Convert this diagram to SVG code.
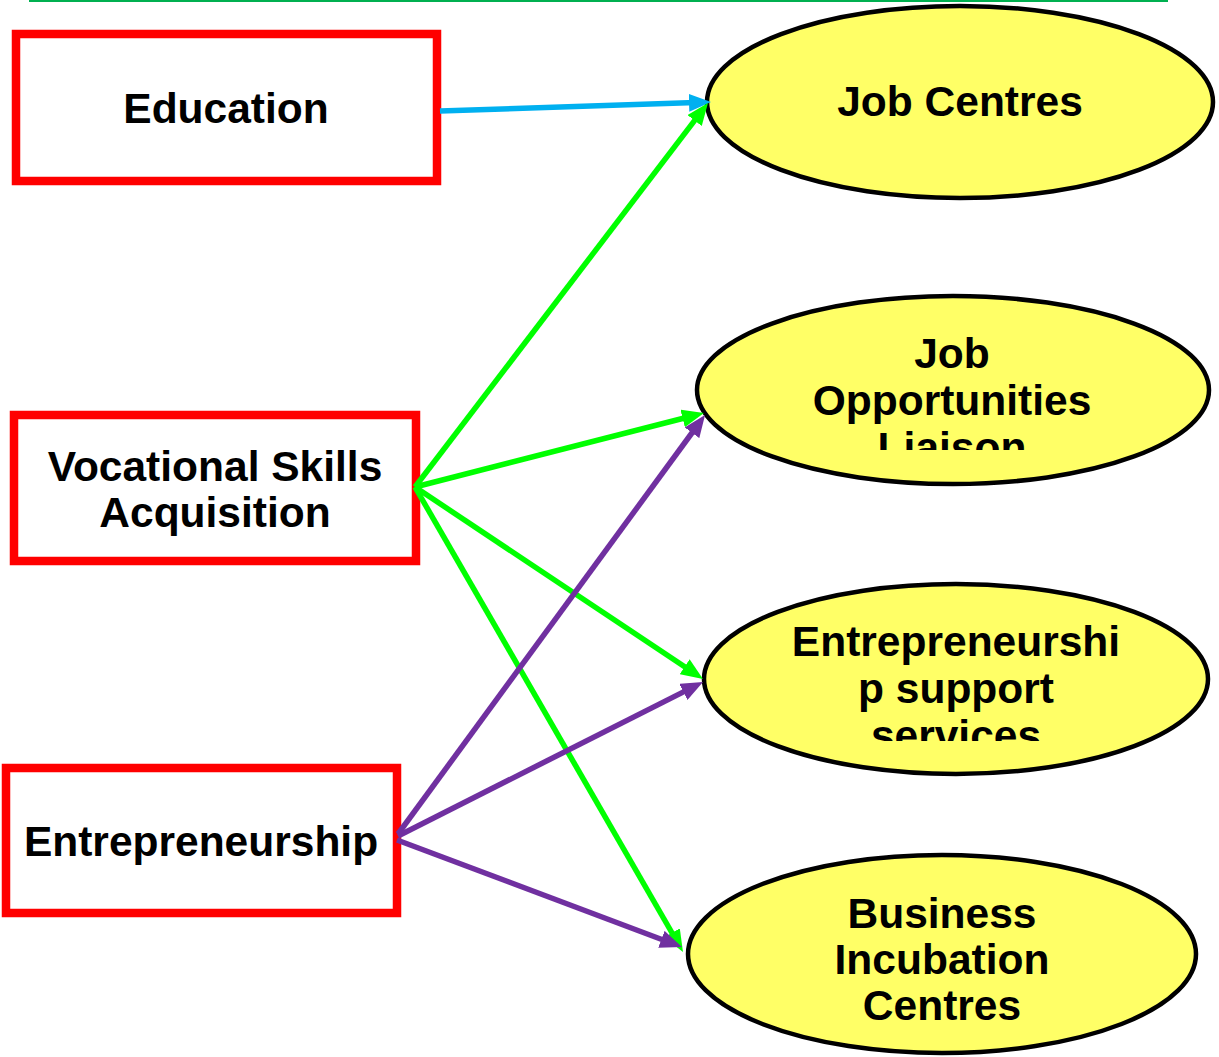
<svg xmlns="http://www.w3.org/2000/svg" width="1219" height="1057" viewBox="0 0 1219 1057">
  <style>
    .box { fill: #ffffff; stroke: #ff0000; stroke-width: 8.5; }
    .oval { fill: #ffff66; stroke: #000000; stroke-width: 4.5; }
    .lbl { font-family: "Liberation Sans", Arial, sans-serif; font-weight: bold; font-size: 42.5px; fill: #000000; text-anchor: middle; }
    .edge { fill: none; stroke-width: 5.5; }
    .blue { stroke: #00b0f0; }
    .green { stroke: #00ff00; }
    .purple { stroke: #7030a0; }
  </style>
  <defs>
    <marker id="ahBlue" markerUnits="userSpaceOnUse" markerWidth="22" markerHeight="18" refX="14" refY="9" orient="auto">
      <path d="M0,0 L22,9 L0,18 z" fill="#00b0f0"/>
    </marker>
    <marker id="ahGreen" markerUnits="userSpaceOnUse" markerWidth="22" markerHeight="18" refX="14" refY="9" orient="auto">
      <path d="M0,0 L22,9 L0,18 z" fill="#00ff00"/>
    </marker>
    <marker id="ahPurple" markerUnits="userSpaceOnUse" markerWidth="22" markerHeight="18" refX="14" refY="9" orient="auto">
      <path d="M0,0 L22,9 L0,18 z" fill="#7030a0"/>
    </marker>
    <clipPath id="clipJol">
      <rect x="690" y="290" width="530" height="160"/>
    </clipPath>
    <clipPath id="clipEss">
      <rect x="690" y="580" width="530" height="161"/>
    </clipPath>
  </defs>

  <!-- header rule -->
  <line x1="29" y1="1" x2="1168" y2="1" stroke="#00b050" stroke-width="2"/>

  <!-- source boxes -->
  <g id="education">
    <rect class="box" x="16" y="34" width="421" height="147"/>
    <text class="lbl" x="226" y="123">Education</text>
  </g>
  <g id="vocational-skills">
    <rect class="box" x="14" y="415" width="402" height="146"/>
    <text class="lbl" x="215" y="481">Vocational Skills</text>
    <text class="lbl" x="215" y="527">Acquisition</text>
  </g>
  <g id="entrepreneurship">
    <rect class="box" x="6" y="768" width="391" height="145"/>
    <text class="lbl" x="201" y="856">Entrepreneurship</text>
  </g>

  <!-- target ovals -->
  <g id="job-centres">
    <ellipse class="oval" cx="960" cy="102" rx="253" ry="96"/>
    <text class="lbl" x="960" y="116">Job Centres</text>
  </g>
  <g id="job-opportunities-liaison">
    <ellipse class="oval" cx="953" cy="390" rx="256" ry="94"/>
    <g clip-path="url(#clipJol)">
      <text class="lbl" x="952" y="368">Job</text>
      <text class="lbl" x="952" y="415">Opportunities</text>
      <text class="lbl" x="952" y="462">Liaison</text>
    </g>
  </g>
  <g id="entrepreneurship-support">
    <ellipse class="oval" cx="956" cy="679" rx="252" ry="95"/>
    <g clip-path="url(#clipEss)">
      <text class="lbl" x="956" y="656">Entrepreneurshi</text>
      <text class="lbl" x="956" y="703">p support</text>
      <text class="lbl" x="956" y="750">services</text>
    </g>
  </g>
  <g id="business-incubation">
    <ellipse class="oval" cx="942" cy="954" rx="254" ry="99"/>
    <text class="lbl" x="942" y="928">Business</text>
    <text class="lbl" x="942" y="974">Incubation</text>
    <text class="lbl" x="942" y="1020">Centres</text>
  </g>

  <!-- connectors -->
  <g id="connectors">
    <line class="edge blue" x1="440" y1="111" x2="703" y2="102.3" marker-end="url(#ahBlue)"/>
    <line class="edge green" x1="415" y1="487" x2="703.1" y2="109.4" marker-end="url(#ahGreen)"/>
    <line class="edge green" x1="415" y1="487" x2="696.2" y2="415" marker-end="url(#ahGreen)"/>
    <line class="edge green" x1="415" y1="487" x2="696.3" y2="674.5" marker-end="url(#ahGreen)"/>
    <line class="edge green" x1="415" y1="487" x2="679" y2="945" marker-end="url(#ahGreen)"/>
    <line class="edge purple" x1="398" y1="834" x2="700.3" y2="421.5" marker-end="url(#ahPurple)"/>
    <line class="edge purple" x1="398" y1="836" x2="695.9" y2="685.6" marker-end="url(#ahPurple)"/>
    <line class="edge purple" x1="397" y1="840" x2="674.5" y2="944.2" marker-end="url(#ahPurple)"/>
  </g>
</svg>
